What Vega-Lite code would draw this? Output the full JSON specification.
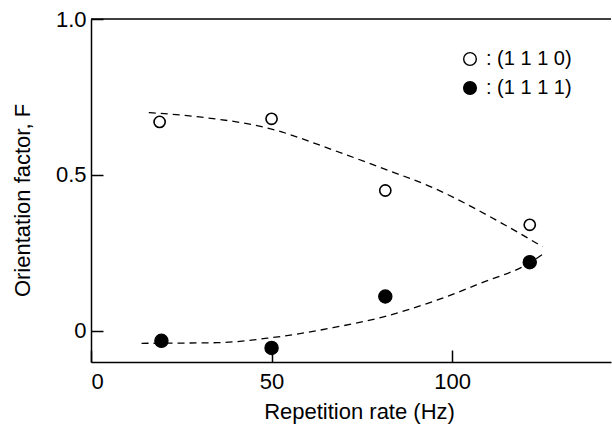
{
  "$schema": "https://vega.github.io/schema/vega-lite/v6.json",
  "width": 520,
  "height": 343,
  "autosize": {"type": "none"},
  "padding": {"left": 91, "top": 19, "right": 1, "bottom": 63},
  "background": "white",
  "config": {
    "view": {"stroke": null},
    "font": "Liberation Sans",
    "axis": {"domainColor": "black", "tickColor": "black", "labelColor": "black", "titleColor": "black", "grid": false, "domainWidth": 1.5, "tickWidth": 1.5, "labelFontSize": 22, "titleFontSize": 22, "titleFontWeight": "normal"}
  },
  "datasets": {
    "pts": [
      {"rate": 19, "F": 0.67, "plane": "(1 1 1 0)"},
      {"rate": 50, "F": 0.68, "plane": "(1 1 1 0)"},
      {"rate": 81.5, "F": 0.45, "plane": "(1 1 1 0)"},
      {"rate": 121.5, "F": 0.34, "plane": "(1 1 1 0)"},
      {"rate": 19.5, "F": -0.032, "plane": "(1 1 1 1)"},
      {"rate": 50, "F": -0.055, "plane": "(1 1 1 1)"},
      {"rate": 81.5, "F": 0.11, "plane": "(1 1 1 1)"},
      {"rate": 121.5, "F": 0.22, "plane": "(1 1 1 1)"}
    ],
    "curves": [
      {"rate": 16, "F": 0.70, "curve": "a"},
      {"rate": 30, "F": 0.686, "curve": "a"},
      {"rate": 50, "F": 0.647, "curve": "a"},
      {"rate": 67, "F": 0.58, "curve": "a"},
      {"rate": 81, "F": 0.52, "curve": "a"},
      {"rate": 94.5, "F": 0.46, "curve": "a"},
      {"rate": 113, "F": 0.35, "curve": "a"},
      {"rate": 125, "F": 0.27, "curve": "a"},
      {"rate": 14, "F": -0.04, "curve": "b"},
      {"rate": 35, "F": -0.038, "curve": "b"},
      {"rate": 50, "F": -0.022, "curve": "b"},
      {"rate": 67, "F": 0.01, "curve": "b"},
      {"rate": 81, "F": 0.045, "curve": "b"},
      {"rate": 94.5, "F": 0.093, "curve": "b"},
      {"rate": 108, "F": 0.153, "curve": "b"},
      {"rate": 121.5, "F": 0.218, "curve": "b"},
      {"rate": 126, "F": 0.253, "curve": "b"}
    ],
    "top": [{"F": 1.0}]
  },
  "layer": [
    {
      "data": {"name": "top"},
      "mark": {"type": "rule", "color": "black", "strokeWidth": 1.5},
      "encoding": {"y": {"field": "F", "type": "quantitative", "scale": {"domain": [-0.1, 1.0]}}}
    },
    {
      "data": {"name": "curves"},
      "mark": {"type": "line", "color": "black", "strokeWidth": 1.3, "strokeDash": [7, 5], "interpolate": "monotone"},
      "encoding": {
        "x": {"field": "rate", "type": "quantitative"},
        "y": {"field": "F", "type": "quantitative"},
        "detail": {"field": "curve"}
      }
    },
    {
      "data": {"name": "pts"},
      "transform": [{"filter": "datum.plane == '(1 1 1 0)'"}],
      "mark": {"type": "point", "shape": "circle", "size": 125, "stroke": "black", "strokeWidth": 1.6, "filled": false, "opacity": 1},
      "encoding": {
        "x": {
          "field": "rate", "type": "quantitative",
          "scale": {"domain": [0, 144], "nice": false, "zero": false},
          "axis": {"values": [0, 50, 100], "tickSize": -12, "labelPadding": 21, "title": "Repetition rate (Hz)", "titleX": 268, "titleY": 39, "titleBaseline": "top"}
        },
        "y": {
          "field": "F", "type": "quantitative",
          "scale": {"domain": [-0.1, 1.0], "nice": false, "zero": false},
          "axis": {"values": [0, 0.5, 1.0], "tickSize": -12, "labelPadding": 17, "labelExpr": "datum.value == 0 ? '0' : format(datum.value, '.1f')", "title": "Orientation factor, F", "titleX": -62, "titleY": 181, "titleBaseline": "alphabetic"}
        },
        "fill": {
          "field": "plane", "type": "nominal",
          "scale": {"domain": ["(1 1 1 0)", "(1 1 1 1)"], "range": ["white", "black"]},
          "legend": {"title": null, "orient": "none", "legendX": 369, "legendY": 30, "labelExpr": "': ' + datum.label", "labelFontSize": 20, "symbolSize": 160, "symbolStrokeColor": "black", "symbolStrokeWidth": 1.4, "symbolType": "circle", "rowPadding": 9, "labelOffset": 6, "labelColor": "black"}
        }
      }
    },
    {
      "data": {"name": "pts"},
      "transform": [{"filter": "datum.plane == '(1 1 1 1)'"}],
      "mark": {"type": "point", "shape": "circle", "size": 175, "stroke": "black", "strokeWidth": 1.2, "filled": false, "opacity": 1},
      "encoding": {
        "x": {"field": "rate", "type": "quantitative"},
        "y": {"field": "F", "type": "quantitative"},
        "fill": {"field": "plane", "type": "nominal"}
      }
    }
  ]
}
